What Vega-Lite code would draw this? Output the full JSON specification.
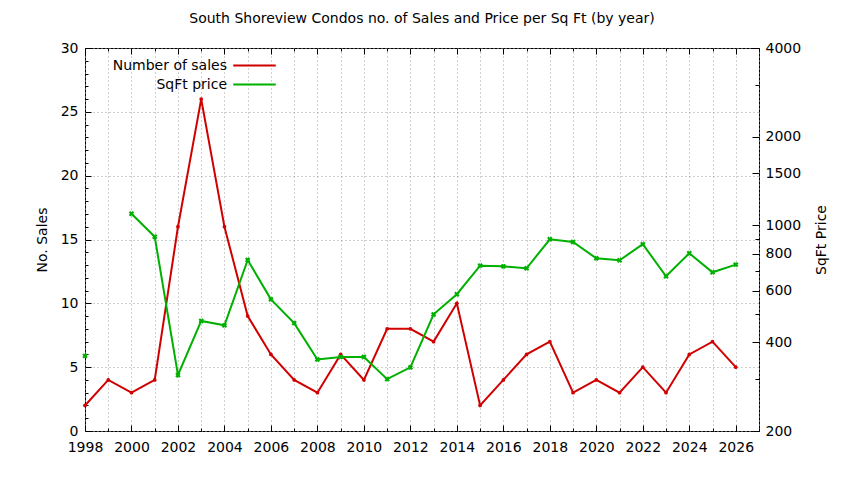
{
  "$schema": "https://vega.github.io/schema/vega-lite/v6.json",
  "width": 674,
  "height": 383,
  "autosize": {"type": "none"},
  "padding": {"left": 85, "top": 48, "right": 85, "bottom": 49},
  "background": "#ffffff",
  "title": {
    "text": "South Shoreview Condos no. of Sales and Price per Sq Ft (by year)",
    "font": "DejaVu Sans",
    "fontSize": 14,
    "fontWeight": "normal",
    "color": "#000000",
    "anchor": "middle",
    "offset": 15
  },
  "config": {
    "view": {"stroke": "#000000", "strokeWidth": 1},
    "font": "DejaVu Sans",
    "axis": {
      "labelFont": "DejaVu Sans",
      "labelFontSize": 14,
      "labelColor": "#000000",
      "titleFont": "DejaVu Sans",
      "titleFontSize": 14,
      "titleFontWeight": "normal",
      "titleColor": "#000000",
      "domain": false,
      "tickColor": "#000000",
      "gridColor": "#a0a0a0",
      "gridDash": [1, 3],
      "gridWidth": 1,
      "labelOverlap": false,
      "labelFlush": false
    }
  },
  "data": {
    "values": [
      {"year": 1998, "sales": 2, "price": 360},
      {"year": 1999, "sales": 4, "price": null},
      {"year": 2000, "sales": 3, "price": 1094},
      {"year": 2001, "sales": 4, "price": 914},
      {"year": 2002, "sales": 16, "price": 310},
      {"year": 2003, "sales": 26, "price": 473},
      {"year": 2004, "sales": 16, "price": 457},
      {"year": 2005, "sales": 9, "price": 762},
      {"year": 2006, "sales": 6, "price": 560},
      {"year": 2007, "sales": 4, "price": 465},
      {"year": 2008, "sales": 3, "price": 350},
      {"year": 2009, "sales": 6, "price": 357},
      {"year": 2010, "sales": 4, "price": 357},
      {"year": 2011, "sales": 8, "price": 300},
      {"year": 2012, "sales": 8, "price": 329},
      {"year": 2013, "sales": 7, "price": 498},
      {"year": 2014, "sales": 10, "price": 583},
      {"year": 2015, "sales": 2, "price": 729},
      {"year": 2016, "sales": 4, "price": 725},
      {"year": 2017, "sales": 6, "price": 714},
      {"year": 2018, "sales": 7, "price": 896},
      {"year": 2019, "sales": 3, "price": 877},
      {"year": 2020, "sales": 4, "price": 772},
      {"year": 2021, "sales": 3, "price": 760},
      {"year": 2022, "sales": 5, "price": 862},
      {"year": 2023, "sales": 3, "price": 671},
      {"year": 2024, "sales": 6, "price": 803},
      {"year": 2025, "sales": 7, "price": 692},
      {"year": 2026, "sales": 5, "price": 735}
    ]
  },
  "layer": [
    {
      "mark": {
        "type": "line",
        "strokeWidth": 2,
        "point": {"shape": "circle", "size": 14, "filled": true}
      },
      "encoding": {
        "x": {
          "field": "year",
          "type": "quantitative",
          "scale": {"domain": [1998, 2027], "nice": false, "zero": false},
          "axis": {
            "orient": "bottom",
            "title": null,
            "format": "d",
            "values": [1998, 1999, 2000, 2001, 2002, 2003, 2004, 2005, 2006, 2007, 2008, 2009, 2010, 2011, 2012, 2013, 2014, 2015, 2016, 2017, 2018, 2019, 2020, 2021, 2022, 2023, 2024, 2025, 2026, 2027],
            "labelExpr": "datum.value % 2 == 0 ? datum.label : ''",
            "tickSize": {"condition": {"test": "datum.value % 2 == 0", "value": -6}, "value": -3},
            "labelPadding": 15,
            "grid": true
          }
        },
        "y": {
          "field": "sales",
          "type": "quantitative",
          "scale": {"domain": [0, 30], "nice": false},
          "axis": {
            "title": "No. Sales",
            "values": [0, 1, 2, 3, 4, 5, 6, 7, 8, 9, 10, 11, 12, 13, 14, 15, 16, 17, 18, 19, 20, 21, 22, 23, 24, 25, 26, 27, 28, 29, 30],
            "labelExpr": "datum.value % 5 == 0 ? datum.label : ''",
            "tickSize": {"condition": {"test": "datum.value % 5 == 0", "value": -6}, "value": -3},
            "gridOpacity": {"condition": {"test": "datum.value % 5 == 0", "value": 1}, "value": 0},
            "labelPadding": 13,
            "titlePadding": 11,
            "grid": true
          }
        },
        "color": {
          "datum": "Number of sales",
          "scale": {"domain": ["Number of sales", "SqFt price"], "range": ["#d00000", "#00b000"]},
          "legend": {
            "orient": "none",
            "legendX": 160,
            "legendY": 8,
            "title": null,
            "symbolType": "M-2.5,0H2.5",
            "symbolSize": 289,
            "symbolStrokeWidth": 2,
            "labelAlign": "right",
            "labelOffset": -37,
            "labelFont": "DejaVu Sans",
            "labelFontSize": 14,
            "labelColor": "#000000",
            "rowPadding": 2
          }
        }
      }
    },
    {
      "mark": {
        "type": "line",
        "strokeWidth": 2,
        "invalid": "break-paths-show-domains",
        "point": {"shape": "cross", "angle": 45, "size": 30, "filled": true}
      },
      "encoding": {
        "x": {
          "field": "year",
          "type": "quantitative",
          "axis": {
            "orient": "top",
            "title": null,
            "labels": false,
            "values": [1998, 1999, 2000, 2001, 2002, 2003, 2004, 2005, 2006, 2007, 2008, 2009, 2010, 2011, 2012, 2013, 2014, 2015, 2016, 2017, 2018, 2019, 2020, 2021, 2022, 2023, 2024, 2025, 2026, 2027],
            "tickSize": {"condition": {"test": "datum.value % 2 == 0", "value": -6}, "value": -3},
            "grid": false
          }
        },
        "y": {
          "field": "price",
          "type": "quantitative",
          "scale": {"type": "log", "domain": [200, 4000], "nice": false},
          "axis": {
            "orient": "right",
            "title": "SqFt Price",
            "titleAngle": 270,
            "values": [200, 300, 400, 500, 600, 700, 800, 900, 1000, 1500, 2000, 3000, 4000],
            "format": "d",
            "labelExpr": "indexof([200, 400, 600, 800, 1000, 1500, 2000, 4000], datum.value) >= 0 ? datum.label : ''",
            "tickSize": {"condition": {"test": "indexof([200, 400, 600, 800, 1000, 1500, 2000, 4000], datum.value) >= 0", "value": -7}, "value": -4},
            "labelPadding": 13,
            "titlePadding": 28,
            "grid": false
          }
        },
        "color": {"datum": "SqFt price"}
      }
    }
  ],
  "resolve": {"scale": {"y": "independent"}, "axis": {"x": "independent"}}
}
